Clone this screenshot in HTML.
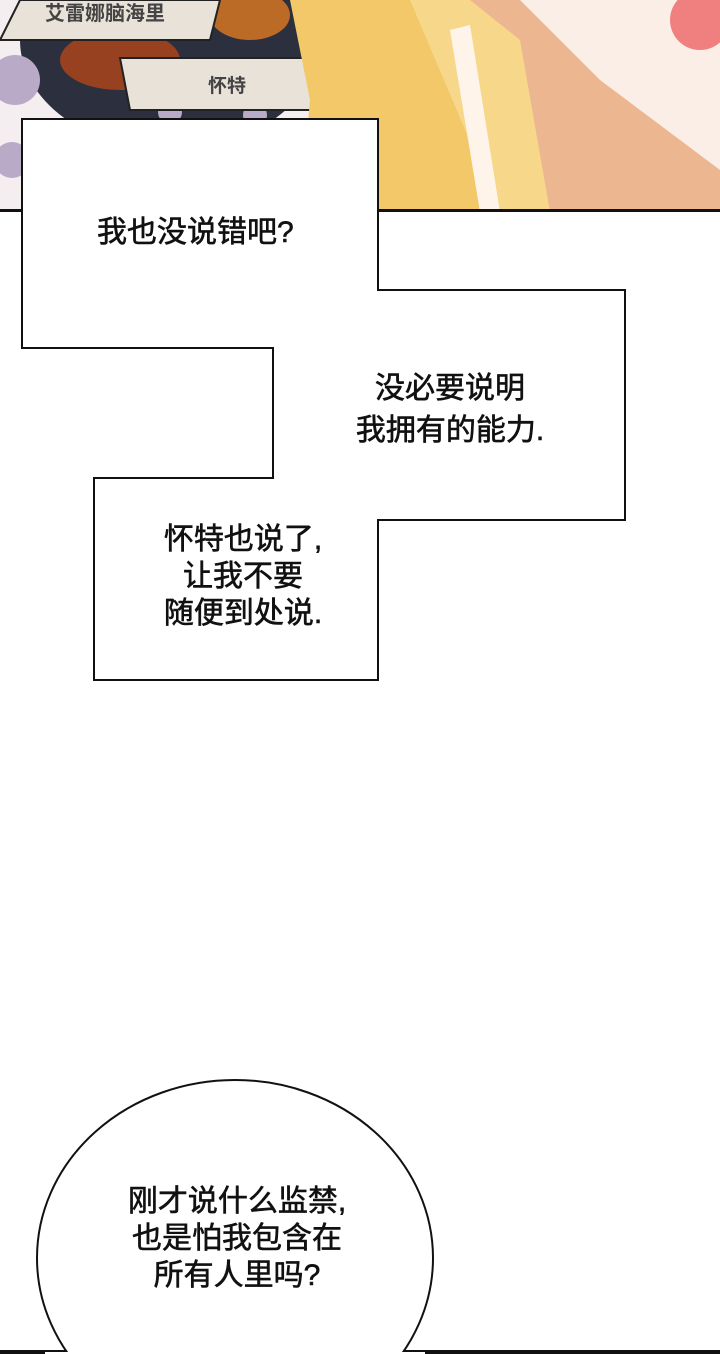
<!DOCTYPE html>
<html><head><meta charset="utf-8"><style>
html,body{margin:0;padding:0;background:#fff;}
body{width:720px;height:1354px;position:relative;overflow:hidden;font-family:"Liberation Sans","Noto Sans CJK SC",sans-serif;}
.t{position:absolute;font-size:30px;color:#111;line-height:38px;text-align:center;white-space:nowrap;-webkit-text-stroke:0.6px #111;}
</style></head><body>
<svg width="720" height="1354" style="position:absolute;left:0;top:0;display:block">
  <rect x="0" y="0" width="720" height="212" fill="#f4eef0"/>
  <ellipse cx="170" cy="40" rx="150" ry="110" fill="#2b2f3e"/>
  <ellipse cx="120" cy="60" rx="60" ry="30" fill="#b3461a" opacity="0.8"/>
  <ellipse cx="250" cy="15" rx="40" ry="25" fill="#e07a20" opacity="0.8"/>
  <g fill="#b9aac8"><circle cx="15" cy="80" r="25"/><circle cx="55" cy="145" r="20"/><circle cx="12" cy="160" r="18"/><circle cx="170" cy="112" r="12"/><circle cx="255" cy="115" r="12"/></g>
  <polygon points="20,0 220,0 210,40 0,40" fill="#e9e2d8" stroke="#222" stroke-width="2"/>
  <text x="45" y="20" font-size="20" font-weight="bold" fill="#444" font-family="Noto Sans CJK SC">艾雷娜脑海里</text>
  <polygon points="120,58 345,58 330,85 345,110 130,110" fill="#e9e2d8" stroke="#222" stroke-width="2"/>
  <text x="208" y="92" font-size="19" font-weight="bold" fill="#444" font-family="Noto Sans CJK SC">怀特</text>
  <polygon points="290,0 720,0 720,212 300,212 310,100" fill="#f3c868"/>
  <polygon points="330,0 720,0 720,212 500,212 410,0" fill="#f7d88a"/>
  <polygon points="470,0 720,0 720,212 550,212 520,40" fill="#ecb690"/>
  <polygon points="520,0 720,0 720,170 600,80" fill="#fbeee6"/>
  <polygon points="450,30 470,25 500,212 480,212" fill="#fff4ea"/>
  <ellipse cx="700" cy="20" rx="30" ry="30" fill="#f08080"/>
  <rect x="0" y="209" width="720" height="3" fill="#111"/>
  <path d="M22,119 H378 V290 H625 V520 H378 V680 H94 V478 H273 V348 H22 Z" fill="#fff" stroke="#111" stroke-width="2"/>
  <rect x="0" y="1350" width="720" height="4" fill="#111"/>
  <ellipse cx="235" cy="1258" rx="198" ry="178" fill="#fff" stroke="#111" stroke-width="2"/>
  <rect x="45" y="1352" width="380" height="2" fill="#fff"/>
</svg>
<div class="t" style="left:22px;width:410px;text-align:left;padding-left:75px;top:214px;left:22px">我也没说错吧?</div>
<div class="t" style="left:340px;width:220px;top:368px;line-height:42px">没必要说明<br>我拥有的能力.</div>
<div class="t" style="left:143px;width:200px;top:521px;line-height:37px">怀特也说了,<br>让我不要<br>随便到处说.</div>
<div class="t" style="left:112px;width:250px;top:1183px;line-height:37px">刚才说什么监禁,<br>也是怕我包含在<br>所有人里吗?</div>
</body></html>
